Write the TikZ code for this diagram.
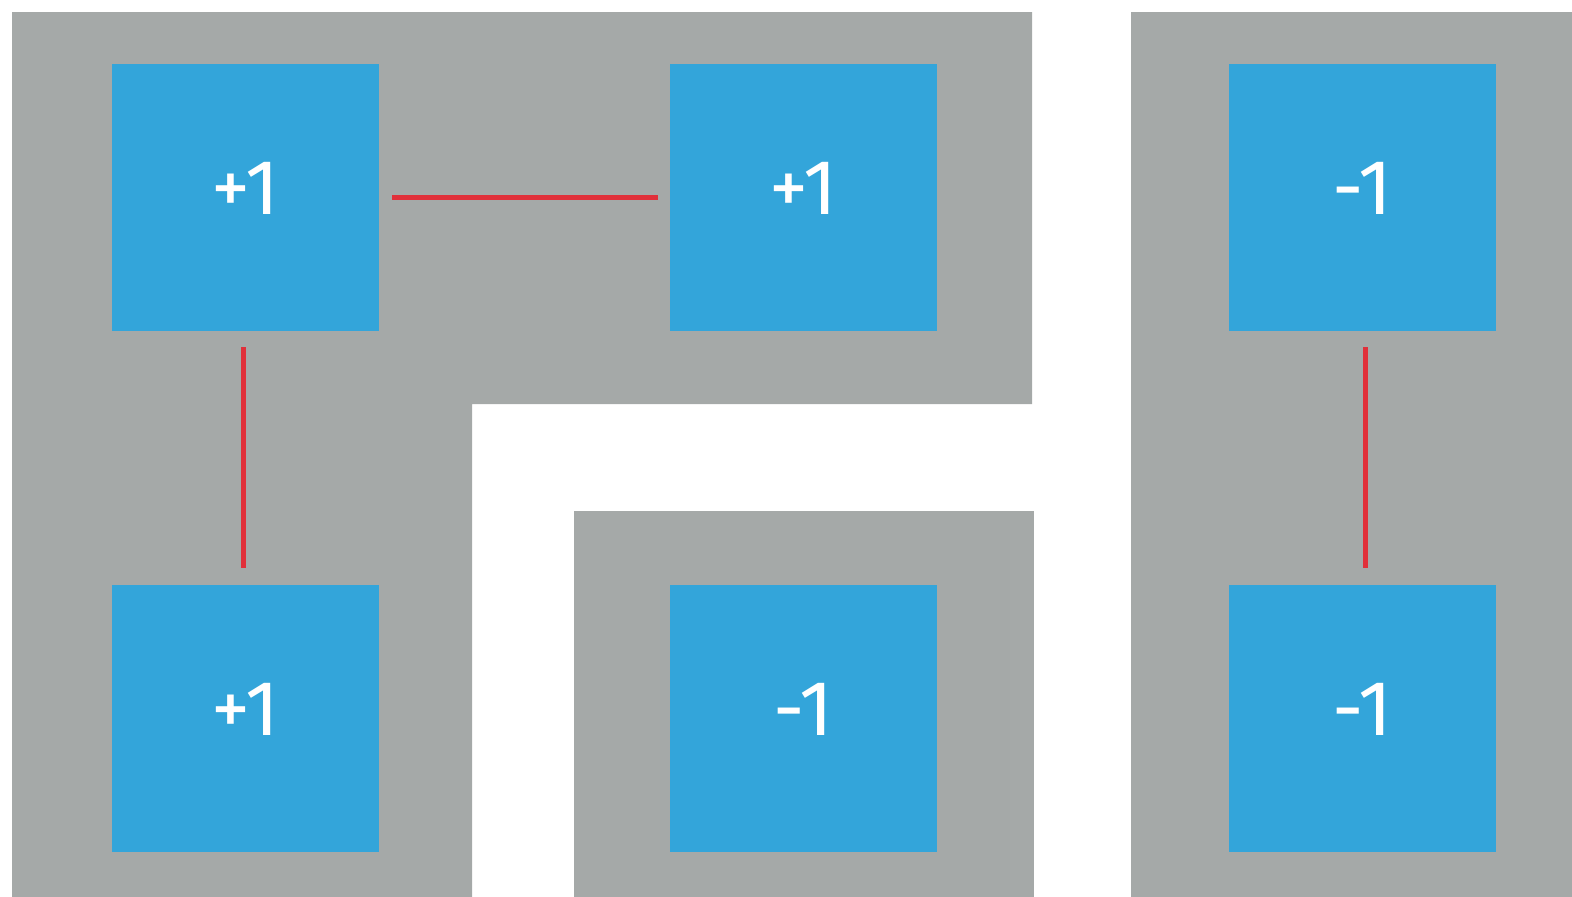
\documentclass[tikz,border=0pt]{standalone}
\usepackage{fontspec}
\setmainfont{Fira Sans}
\usepackage{tikz}
\usetikzlibrary{positioning}
\usepackage{xcolor}
\definecolor{cellblue}{HTML}{33A5DA}
\definecolor{regiongray}{HTML}{A5A9A8}
\definecolor{bondred}{HTML}{E0303A}

\begin{document}
\begin{tikzpicture}[
    x=1pt, y=-1pt,
    spin/.style={rectangle, fill=cellblue, minimum width=267pt, minimum height=267pt,
                 inner sep=0pt, text=white, font=\fontsize{78}{78}\selectfont,
                 text height=54pt, text depth=20pt},
    bond/.style={draw=bondred, line width=5pt}
]
\useasboundingbox (0,0) rectangle (1572,897);

% clusters
\fill[regiongray] (12,12) -- (1032,12) -- (1032,404) -- (472,404) -- (472,897) -- (12,897) -- cycle;
\fill[regiongray] (574,511) rectangle (1034,897);
\fill[regiongray] (1131,12) rectangle (1572,897);

% spins
\node[spin] (s11) at (245.5,197.5) {+1};
\node[spin] (s12) at (803.5,197.5) {+1};
\node[spin] (s13) at (1362,197.5) {-1};
\node[spin] (s21) at (245.5,718.5) {+1};
\node[spin] (s22) at (803.5,718.5) {-1};
\node[spin] (s23) at (1362,718.5) {-1};

% bonds
\draw[bond, shorten <=13pt, shorten >=12pt] (s11) -- (s12);
\draw[bond, shorten <=16pt, shorten >=17pt] (s11.south -| 243,0) -- (s21.north -| 243,0);
\draw[bond, shorten <=16pt, shorten >=17pt] (s13.south -| 1365,0) -- (s23.north -| 1365,0);
\end{tikzpicture}
\end{document}
